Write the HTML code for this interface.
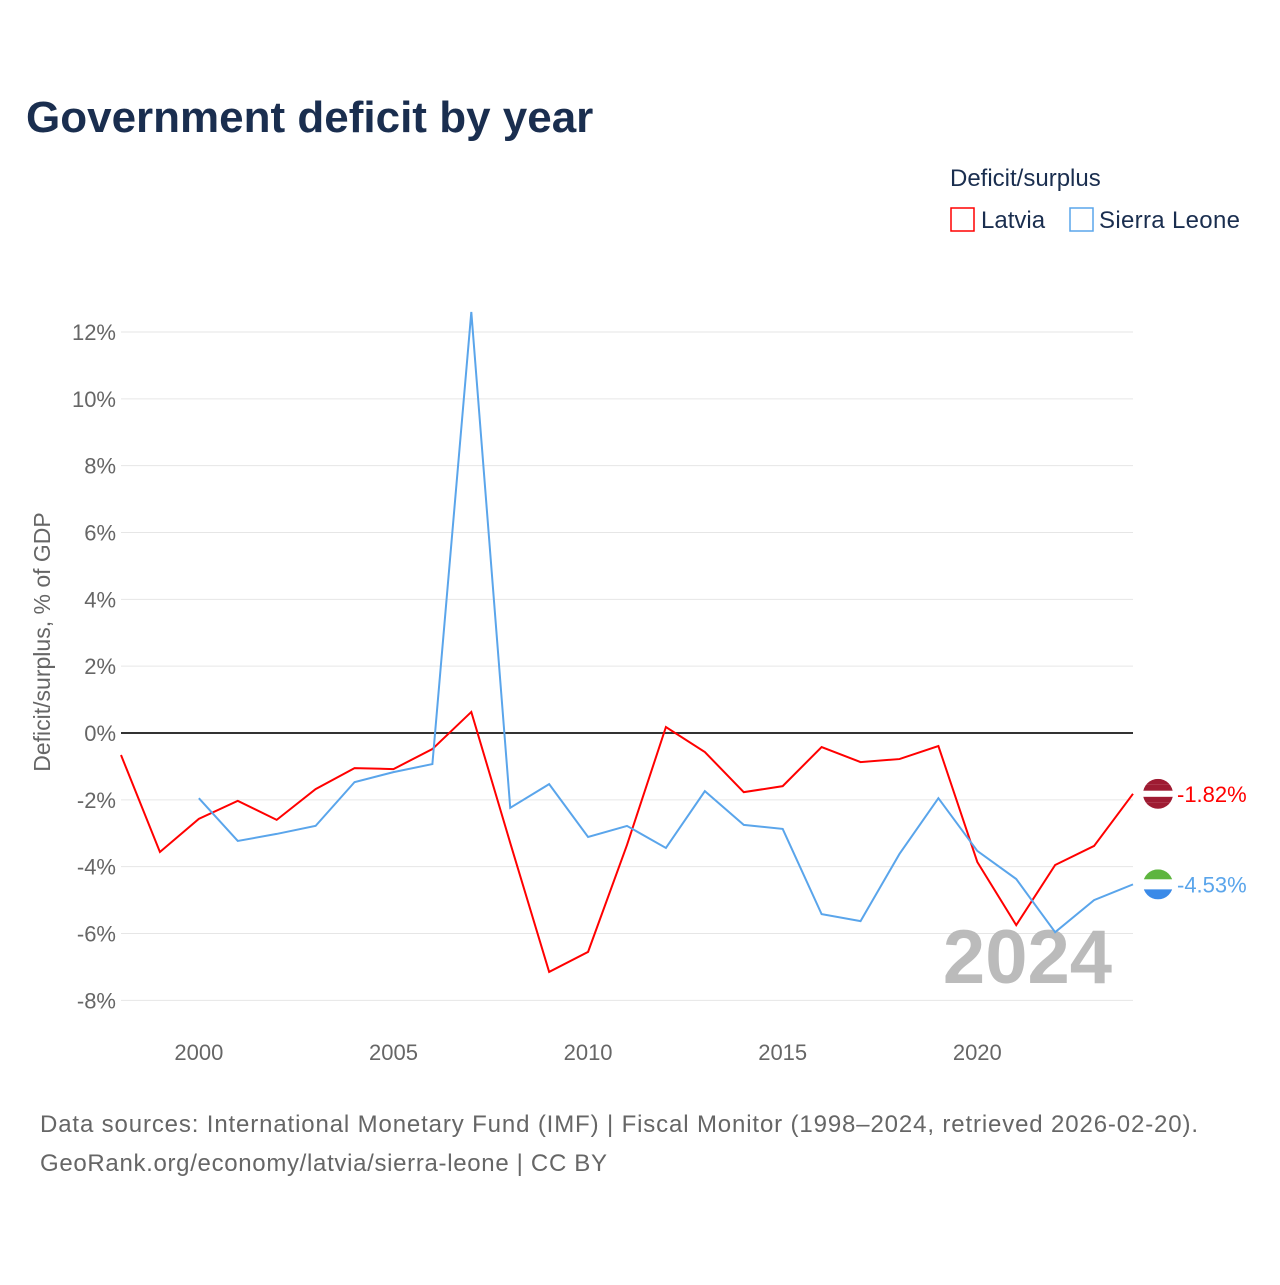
<!DOCTYPE html>
<html><head><meta charset="utf-8">
<style>
body{margin:0;background:#fff;font-family:"Liberation Sans",sans-serif;}
#wrap{position:relative;width:1280px;height:1280px;}
</style></head>
<body>
<div id="wrap">
<svg id="chart" width="1280" height="1280" xmlns="http://www.w3.org/2000/svg">
<text x="26" y="132" font-size="44" font-weight="bold" fill="#1a2e4f">Government deficit by year</text>
<text x="950" y="186" font-size="24" fill="#1a2e4f">Deficit/surplus</text>
<g><rect x="951" y="208" width="23" height="23" fill="none" stroke="#ff0000" stroke-width="1.5"/><text x="981" y="228" font-size="24" fill="#1a2e4f">Latvia</text></g>
<g><rect x="1070" y="208" width="23" height="23" fill="none" stroke="#5aa5eb" stroke-width="1.5"/><text x="1099" y="228" font-size="24" fill="#1a2e4f" textLength="141">Sierra Leone</text></g>
<text transform="translate(50,642) rotate(-90)" text-anchor="middle" font-size="23" fill="#666">Deficit/surplus, % of GDP</text>
<g id="grid"></g><g id="yt"></g><g id="xt"></g>
<text x="1112" y="983" text-anchor="end" font-size="76" font-weight="bold" fill="#bbb">2024</text>
<g id="lines"></g>
<text x="40" y="1132" font-size="24" fill="#666" textLength="1158">Data sources: International Monetary Fund (IMF) | Fiscal Monitor (1998–2024, retrieved 2026-02-20).</text>
<text x="40" y="1171" font-size="24" fill="#666" textLength="567">GeoRank.org/economy/latvia/sierra-leone | CC BY</text>
</svg>
</div>
<script>
const years=[1998,1999,2000,2001,2002,2003,2004,2005,2006,2007,2008,2009,2010,2011,2012,2013,2014,2015,2016,2017,2018,2019,2020,2021,2022,2023,2024];
const latvia=[-0.66,-3.56,-2.57,-2.03,-2.6,-1.68,-1.05,-1.08,-0.48,0.63,-3.29,-7.15,-6.55,-3.35,0.18,-0.57,-1.77,-1.59,-0.42,-0.87,-0.78,-0.39,-3.86,-5.75,-3.95,-3.38,-1.82];
const sierra=[null,null,-1.95,-3.23,-3.02,-2.78,-1.47,-1.17,-0.93,12.6,-2.24,-1.53,-3.11,-2.78,-3.44,-1.74,-2.75,-2.87,-5.42,-5.63,-3.62,-1.95,-3.53,-4.37,-5.96,-5.0,-4.53];
const yTicks=[-8,-6,-4,-2,0,2,4,6,8,10,12];
const xTicks=[2000,2005,2010,2015,2020];
const NS="http://www.w3.org/2000/svg";
const X=y=>121+(y-1998)*(1133-121)/26;
const Y=v=>733-v*(733-332)/12;
function mk(t,a,p){const e=document.createElementNS(NS,t);for(const k in a)e.setAttribute(k,a[k]);p.appendChild(e);return e;}
const grid=document.getElementById('grid'),yt=document.getElementById('yt'),xt=document.getElementById('xt'),lines=document.getElementById('lines');
yTicks.forEach(v=>{
 const l=mk('line',{x1:121,x2:1133,y1:Y(v),y2:Y(v),stroke:v===0?'#333':'#e6e6e6','stroke-width':v===0?2:1},grid);
 
 
 const t=mk('text',{x:116,y:Y(v)+8,'text-anchor':'end','font-size':22,fill:'#666'},yt);
 t.textContent=v+'%';
 
 
});
xTicks.forEach(v=>{
 const t=mk('text',{x:X(v),y:1060,'text-anchor':'middle','font-size':22,fill:'#666'},xt);
 t.textContent=v;
 
 
});
function draw(vals,color,name,flag){
 let d='';vals.forEach((v,i)=>{if(v==null)return;d+=(d?'L':'M')+X(years[i])+','+Y(v);});
 const p=mk('path',{d:d,fill:'none',stroke:color,'stroke-width':2},lines);
 
 
 const last=vals[vals.length-1],cx=X(years[years.length-1])+25,cy=Y(last);
 const g=mk('g',{},lines);
 
 
 flag.forEach((c,i)=>mk('rect',{x:cx-15,y:cy-15+i*30/flag.length,width:30,height:30/flag.length,fill:c},g));
 const cp=mk('clipPath',{id:'c'+name},lines);mk('circle',{cx:cx,cy:cy,r:15},cp);g.setAttribute('clip-path','url(#c'+name+')');
 const t=mk('text',{x:cx+19,y:cy+8,'font-size':22,fill:color},lines);
 t.textContent=last.toFixed(2)+'%';
 
 
}
draw(latvia,'#ff0000','latvia',['#9e1b32','#9e1b32','#fff','#9e1b32','#9e1b32']);
draw(sierra,'#5aa5eb','sierra-leone',['#5eb53f','#fff','#3a8ae8']);
</script>
</body></html>
